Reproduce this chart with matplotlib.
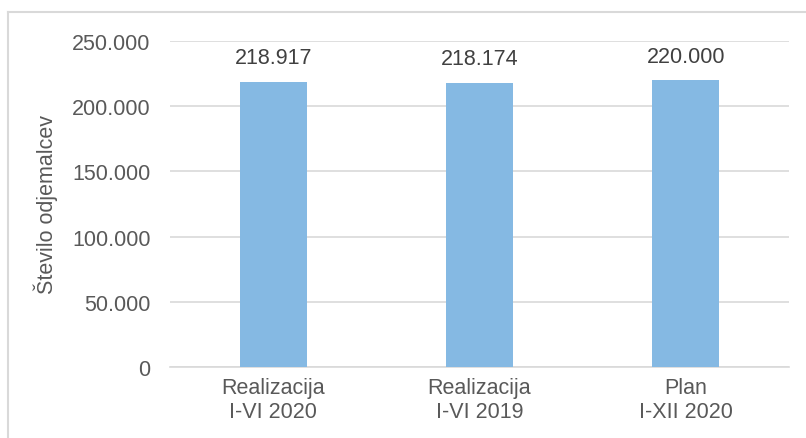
import matplotlib.pyplot as plt
from matplotlib.lines import Line2D

categories = ["Realizacija\nI-VI 2020", "Realizacija\nI-VI 2019", "Plan\nI-XII 2020"]
values = [218917, 218174, 220000]
value_labels = ["218.917", "218.174", "220.000"]
yticks = [0, 50000, 100000, 150000, 200000, 250000]
ytick_labels = ["0", "50.000", "100.000", "150.000", "200.000", "250.000"]

plt.rcParams['font.family'] = ['Liberation Sans', 'DejaVu Sans']

fig = plt.figure(figsize=(8.06, 4.39), dpi=100)
ax = fig.add_axes([170 / 806, 1 - 368 / 439, (789 - 170) / 806, (368 - 42) / 439])

x = range(len(categories))
bars = ax.bar(x, values, width=0.325, color='#85B9E3', zorder=3)

for b, lab in zip(bars, value_labels):
    ax.text(b.get_x() + b.get_width() / 2, b.get_height() + 10000, lab,
            ha='center', va='bottom', fontsize=15.5, color='#404040')

ax.set_xlim(-0.5, 2.5)
ax.set_ylim(0, 250000)
ax.set_yticks(yticks)
ax.set_yticklabels(ytick_labels, fontsize=15.5, color='#595959')
ax.set_xticks(list(x))
ax.set_xticklabels(categories, fontsize=15.5, color='#595959', linespacing=1.2)
ax.tick_params(axis='x', length=0, pad=7)
ax.tick_params(axis='y', length=0, pad=14)

ax.grid(axis='y', color='#d9d9d9', linewidth=1.2, zorder=0)
for s in ['top', 'right', 'left']:
    ax.spines[s].set_visible(False)
ax.spines['bottom'].set_color('#d9d9d9')
ax.spines['bottom'].set_linewidth(1.2)

fig.text(46 / 806, 1 - 205 / 439, "Število odjemalcev", rotation=90,
         ha='center', va='center', fontsize=15.5, color='#595959')

# outer chart frame (only left and top edges visible)
fig.add_artist(Line2D([8 / 806, 8 / 806], [0, 1 - 13 / 439], transform=fig.transFigure,
                      color='#d9d9d9', linewidth=1.5))
fig.add_artist(Line2D([8 / 806, 1], [1 - 13 / 439, 1 - 13 / 439], transform=fig.transFigure,
                      color='#d9d9d9', linewidth=1.5))

fig.savefig("out.png", dpi=100)
